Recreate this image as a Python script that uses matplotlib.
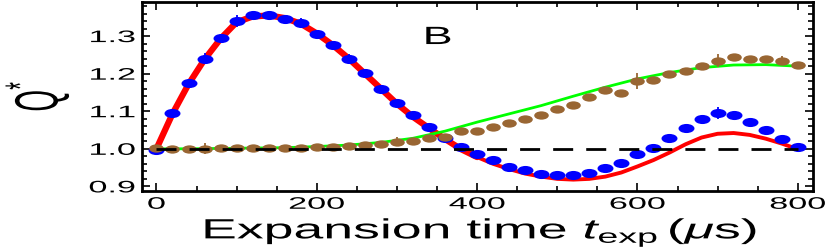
import matplotlib
matplotlib.use("Agg")
import matplotlib.pyplot as plt
from matplotlib.patheffects import AbstractPathEffect
from matplotlib.path import Path
from matplotlib.transforms import Affine2D
from matplotlib.ticker import MultipleLocator

plt.rcParams['font.family'] = ['Liberation Sans', 'DejaVu Sans']
plt.rcParams['mathtext.fontset'] = 'custom'
plt.rcParams['mathtext.rm'] = 'Liberation Sans'
plt.rcParams['mathtext.it'] = 'Liberation Sans:italic'
plt.rcParams['mathtext.bf'] = 'Liberation Sans:bold'

#===========================================================
# dados
t_pts = [0, 20, 40, 60, 80, 100, 120, 140, 160, 180, 200, 220, 240, 260, 280,
         300, 320, 340, 360, 380, 400, 420, 440, 460, 480, 500, 520, 540, 560,
         580, 600, 620, 640, 660, 680, 700, 720, 740, 760, 780, 800]

q_blue = [0.998, 1.095, 1.175, 1.240, 1.296, 1.340, 1.355, 1.355, 1.345, 1.335,
          1.306, 1.275, 1.239, 1.202, 1.160, 1.122, 1.089, 1.059, 1.029, 1.004,
          0.985, 0.969, 0.951, 0.944, 0.933, 0.931, 0.930, 0.936, 0.948, 0.962,
          0.987, 1.003, 1.029, 1.056, 1.080, 1.095, 1.089, 1.071, 1.051, 1.027,
          1.004]
err_blue = [0.006, 0.004, 0.004, 0.014, 0.004, 0.016, 0.013, 0.006, 0.009, 0.014,
            0.004, 0.012, 0.012, 0.004, 0.004, 0.004, 0.004, 0.004, 0.004, 0.004,
            0.004, 0.004, 0.004, 0.004, 0.004, 0.004, 0.004, 0.004, 0.004, 0.004,
            0.004, 0.004, 0.004, 0.004, 0.004, 0.015, 0.004, 0.004, 0.004, 0.004,
            0.004]

q_brown = [1.001, 0.999, 0.999, 1.000, 1.001, 1.001, 1.002, 1.002, 1.003, 1.003,
           1.005, 1.005, 1.008, 1.010, 1.013, 1.019, 1.022, 1.029, 1.031, 1.047,
           1.047, 1.058, 1.070, 1.079, 1.089, 1.105, 1.117, 1.138, 1.157, 1.148,
           1.180, 1.182, 1.198, 1.207, 1.220, 1.235, 1.244, 1.240, 1.238, 1.235,
           1.222]
err_brown = [0.003, 0.003, 0.003, 0.015, 0.003, 0.003, 0.003, 0.003, 0.003, 0.003,
             0.003, 0.003, 0.003, 0.003, 0.003, 0.012, 0.003, 0.003, 0.003, 0.003,
             0.003, 0.003, 0.003, 0.003, 0.003, 0.003, 0.003, 0.003, 0.003, 0.003,
             0.022, 0.003, 0.003, 0.003, 0.003, 0.016, 0.003, 0.003, 0.003, 0.011,
             0.003]

# curva vermelha (modelo)
t_red = t_pts
q_red = [1.000, 1.093, 1.172, 1.238, 1.293, 1.337, 1.352, 1.355, 1.348, 1.333,
         1.307, 1.276, 1.240, 1.200, 1.160, 1.120, 1.085, 1.055, 1.026, 0.999,
         0.978, 0.960, 0.946, 0.934, 0.926, 0.920, 0.918, 0.920, 0.926, 0.937,
         0.953, 0.970, 0.990, 1.012, 1.030, 1.040, 1.042, 1.037, 1.027, 1.014,
         0.999]
t_fit_end = 380

# curva verde
t_green = [0, 40, 80, 120, 160, 200, 240, 280, 320, 360, 400, 440, 480, 520,
           560, 600, 640, 680, 720, 760, 800]
q_green = [1.000, 1.000, 1.001, 1.002, 1.003, 1.006, 1.010, 1.017, 1.028, 1.047,
           1.071, 1.093, 1.115, 1.140, 1.164, 1.186, 1.203, 1.216, 1.223, 1.224,
           1.220]

# linha tracejada de referencia
t_ref = [0, 800]
q_ref = [1.0, 1.0]

xticks = [0, 200, 400, 600, 800]
xtick_labels = ['0', '200', '400', '600', '800']
yticks = [0.9, 1.0, 1.1, 1.2, 1.3]
ytick_labels = ['0.9', '1.0', '1.1', '1.2', '1.3']


#===========================================================
# texto esticado na horizontal (a figura original foi esticada)
class Stretch(AbstractPathEffect):
    def __init__(self, sx, anchor='center'):
        super().__init__()
        self.sx = sx
        self.anchor = anchor

    def draw_path(self, renderer, gc, tpath, affine, rgbFace=None):
        bb = tpath.get_extents(affine)
        if self.anchor == 'left':
            cx = bb.x0
        elif self.anchor == 'right':
            cx = bb.x1
        else:
            cx = 0.5 * (bb.x0 + bb.x1)
        aff = affine + Affine2D().translate(-cx, 0).scale(self.sx, 1).translate(cx, 0)
        renderer.draw_path(gc, tpath, aff, rgbFace)


ellipse = Path.unit_circle().transformed(Affine2D().scale(1.0, 0.57))

blue = '#0000ff'
brown = '#996633'

fig = plt.figure(figsize=(8.3, 2.49), dpi=100)
ax = fig.add_axes([0.1711, 0.2349, 0.8084, 0.7590])

# modelos
mask = [t <= t_fit_end for t in t_red]
t_a = [t for t, m in zip(t_red, mask) if m]
q_a = [q for q, m in zip(q_red, mask) if m]
t_b = [t for t, m in zip(t_red, mask) if not m]
q_b = [q for q, m in zip(q_red, mask) if not m]
ax.plot(t_a + t_b[:1], q_a + q_b[:1], color='#ff0000', lw=4.5,
        solid_capstyle='round', zorder=2)
ax.plot(t_a[-1:] + t_b, q_a[-1:] + q_b, color='#ff0000', lw=2.8, zorder=2)
ax.plot(t_green, q_green, color='#00ff00', lw=2.0, zorder=2)

# pontos experimentais
ax.errorbar(t_pts, q_blue, yerr=err_blue, ls='none', marker=ellipse, ms=11.5,
            mew=0, color=blue, ecolor=blue, elinewidth=1.3, capsize=4,
            capthick=1.3, zorder=3)
ax.errorbar(t_pts, q_brown, yerr=err_brown, ls='none', marker=ellipse, ms=10.5,
            mew=0, color=brown, ecolor=brown, elinewidth=1.3, capsize=4,
            capthick=1.3, zorder=4)

ax.plot(t_ref, q_ref, color='black', lw=2, ls=(0, (7.2, 4.7)), zorder=5)

ax.set_xlim(-18, 819)
ax.set_ylim(0.889, 1.392)

ax.set_xticks(xticks)
ax.set_xticklabels(xtick_labels)
ax.set_yticks(yticks)
ax.set_yticklabels(ytick_labels)
ax.xaxis.set_minor_locator(MultipleLocator(50))
ax.yaxis.set_minor_locator(MultipleLocator(0.02))
ax.tick_params(which='both', direction='in', top=True, right=True,
               width=1.2, labelsize=12)
ax.tick_params(which='major', length=6)
ax.tick_params(which='minor', length=3.5)
ax.tick_params(axis='x', pad=4.5)
ax.tick_params(axis='y', pad=5)
for sp_ in ax.spines.values():
    sp_.set_linewidth(2)

for lbl in ax.get_xticklabels():
    lbl.set_path_effects([Stretch(2.05, 'center')])
for lbl in ax.get_yticklabels():
    lbl.set_path_effects([Stretch(2.05, 'right')])

ax.set_xlabel(r'Expansion time $t_{\mathrm{exp}}\,(\mu$s)', fontsize=20)
ax.xaxis.label.set_va('baseline')
ax.xaxis.set_label_coords(0.504, -0.254)
ax.xaxis.label.set_path_effects([Stretch(1.93, 'center')])

ax.set_ylabel(r'Q$^{*}$', fontsize=20)
ax.yaxis.label.set_va('center')
ax.yaxis.set_label_coords(-0.156, 0.5)
ax.yaxis.label.set_path_effects([Stretch(2.2, 'center')])

ax.text(0.441, 0.775, 'B', transform=ax.transAxes, ha='center',
        va='baseline', fontsize=18, path_effects=[Stretch(1.8, 'center')])

fig.savefig('out.png', dpi=100)
